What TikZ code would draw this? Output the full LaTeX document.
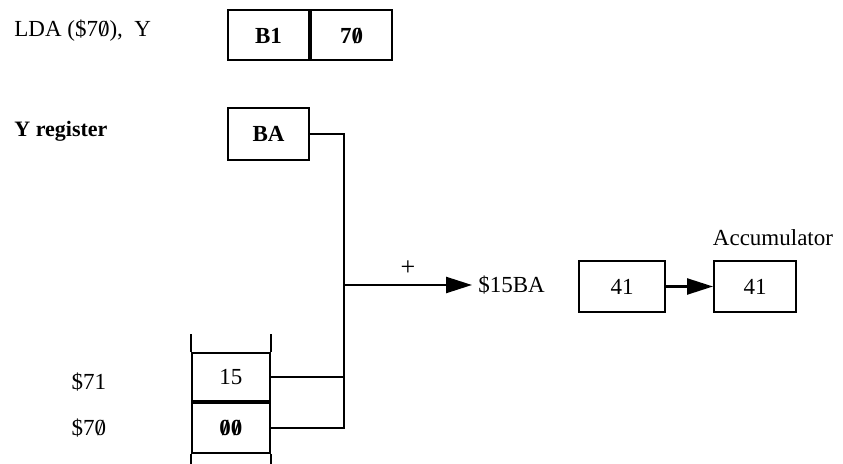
\documentclass[tikz,border=0pt]{standalone}
\usepackage{fontspec}
\setmainfont{Liberation Serif}
\usetikzlibrary{positioning, arrows.meta}
\newcommand{\slz}{\ooalign{0\cr\hidewidth/\hidewidth\cr}}
\tikzstyle{cell} = [rectangle, draw, line width=1pt, inner sep=0pt, minimum width=40.5pt, minimum height=25pt]
\tikzstyle{wire} = [line width=1pt]
\tikzstyle{flow} = [line width=1.2pt, -{Triangle[length=13pt, width=8pt]}]
\tikzset{
  label text/.style={inner sep=0pt, font=\fontsize{11.5}{14}\selectfont},
  memcell/.style={rectangle, draw, line width=1pt, inner sep=0pt, minimum width=39pt}
}
\begin{document}
\begin{tikzpicture}[x=0.5pt, y=-0.5pt, font=\fontsize{11.5}{14}\selectfont]
  \useasboundingbox (0,0) rectangle (843,464);

  % Instruction
  \node[label text, anchor=west] (instr) at (14,31) {LDA (\$7\slz),\ \ Y};
  \node[cell] (opcode) at (268.5,35.5) {\textbf{B1}};
  \node[cell, right=0pt of opcode] (operand) {\textbf{7\slz}};

  % Y register
  \node[label text, anchor=west, font=\fontsize{11}{13}\selectfont] (yreg label) at (14,131) {\textbf{Y register}};
  \node[cell, minimum height=26pt] (yreg) at (268.5,134) {\textbf{BA}};

  % Memory
  \node[memcell, minimum height=24pt] (m71) at (231,377) {15};
  \node[memcell, minimum height=25pt, below=0pt of m71] (m70) {\textbf{\slz\slz}};
  \draw[wire] (m71.north west) -- ++(0,-18);
  \draw[wire] (m71.north east) -- ++(0,-18);
  \draw[wire] (m70.south west) -- ++(0,13);
  \draw[wire] (m70.south east) -- ++(0,13);
  \node[label text] (m71 label) at (89,382) {\$71};
  \node[label text] (m70 label) at (89,428) {\$7\slz};

  % Address sum
  \coordinate (sum) at (344,285);
  \draw[wire] (yreg.east) -| (sum) |- (m70.east);
  \draw[wire] (m71.east) -- (m71.east -| sum);
  \node[label text, anchor=west] (addr) at (478,285) {\$15BA};
  \draw[flow] (sum) -- ([xshift=-3pt]addr.west) node[pos=0.5, above=1pt, font=\fontsize{13}{15}\selectfont] {+};

  % Accumulator
  \node[cell, minimum width=43pt, minimum height=25.5pt] (src) at (622,286.5) {41};
  \node[cell, minimum width=41pt, minimum height=25.5pt] (acc) at (755,286.5) {41};
  \draw[flow] (src.east) -- (acc.west);
  \node[label text] (acc label) at (773,238) {Accumulator};
\end{tikzpicture}
\end{document}
